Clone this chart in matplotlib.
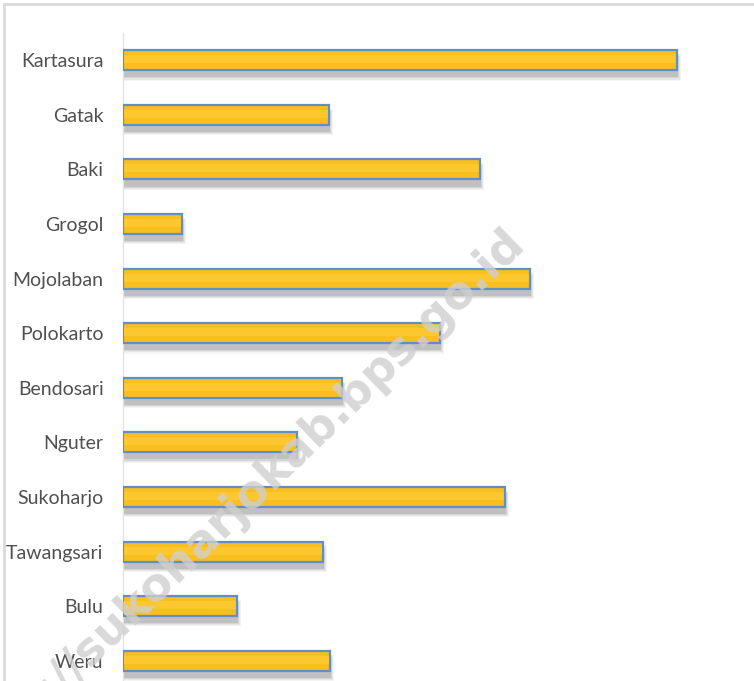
import matplotlib
matplotlib.use("Agg")
import matplotlib.pyplot as plt
from matplotlib import font_manager
from matplotlib.patches import Rectangle
import numpy as np

# Kecamatan in Kabupaten Sukoharjo, top to bottom
districts = ["Kartasura", "Gatak", "Baki", "Grogol", "Mojolaban", "Polokarto",
             "Bendosari", "Nguter", "Sukoharjo", "Tawangsari", "Bulu", "Weru"]
values = [554, 206, 357, 59, 407, 317, 219, 174, 382, 200, 114, 207]
watermark = "http://sukoharjokab.bps.go.id"

W, H = 754, 681
fig = plt.figure(figsize=(W / 100, H / 100), dpi=100)
fig.patch.set_facecolor("white")

names = {f.name for f in font_manager.fontManager.ttflist}
label_font = next((n for n in ["Liberation Sans Narrow", "Lato", "Roboto"] if n in names),
                  "DejaVu Sans")

# axes placed in pixel terms
left_px, top_px, bottom_px = 123, 33, 688
ax = fig.add_axes([left_px / W, (H - bottom_px) / H, (W - left_px) / W, (bottom_px - top_px) / H])
ax.set_xlim(0, W - left_px)
ax.set_ylim(len(districts) - 0.5, -0.5)

bar_h = 0.366
y = np.arange(len(districts))
vals = np.array(values, dtype=float)

# soft drop shadow under each bar
for k, a in enumerate([0.07, 0.10, 0.14, 0.20]):
    grow = 0.04 * (3 - k)
    ax.barh(y + 0.13, vals + 1 + grow * 25, height=bar_h + grow, left=0,
            color="#707070", alpha=a, linewidth=0, zorder=1)

ax.barh(y, vals, height=bar_h, color="#F8BF1F", edgecolor="#5F8FC4",
        linewidth=1.6, zorder=3)
# lighter band in the middle of each bar
ax.barh(y - bar_h * 0.05, vals - 1.5, height=bar_h * 0.4, left=0.8,
        color="#FFCB36", alpha=0.7, linewidth=0, zorder=3.5)

ax.set_yticks(y)
ax.set_yticklabels(districts, fontsize=14, color="#505050", family=label_font)
ax.tick_params(axis="y", length=0, pad=14)
ax.set_xticks([])
for s in ["top", "right", "bottom"]:
    ax.spines[s].set_visible(False)
ax.spines["left"].set_color("#E3E3E3")
ax.spines["left"].set_linewidth(1.0)
ax.patch.set_alpha(0)

# outer frame of the chart area
frame = Rectangle((4 / W, -0.1), 1.2, (H - 4) / H + 0.1, transform=fig.transFigure,
                  fill=False, edgecolor="#D9D9D9", linewidth=2.0, zorder=0)
fig.patches.append(frame)

# diagonal site watermark
fig.text(502 / W, 1 - 220 / H, watermark, rotation=44, rotation_mode="anchor",
         ha="right", va="top", fontsize=33, fontweight="bold", color="#CFCFCF",
         alpha=0.8, family="DejaVu Sans", zorder=10)

fig.savefig("out.png", dpi=100, facecolor="white")
